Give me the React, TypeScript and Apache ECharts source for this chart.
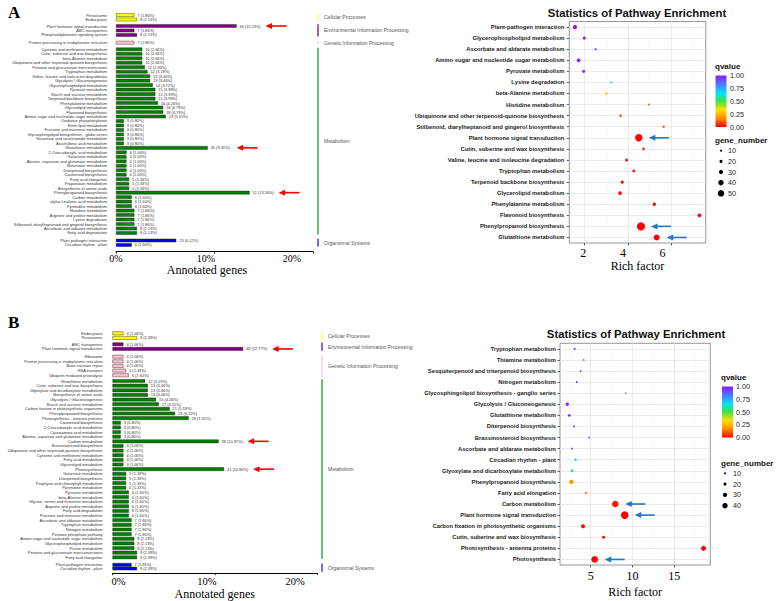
import React, { useEffect, useRef } from 'react';
import * as echarts from 'echarts';

// ====================== DATA ======================
// Panel A – KEGG classification (bar chart)
const TOTAL_A = 376;
const A_cellNames = ['Peroxisome', 'Endocytosis'];
const A_cellCounts = [7, 8];
const A_envNames = ['Plant hormone signal transduction', 'ABC transporters', 'Phosphatidylinositol signaling system'];
const A_envCounts = [46, 7, 8];
const A_genNames = ['Protein processing in endoplasmic reticulum'];
const A_genCounts = [7];
const A_metNames = [
  'Cysteine and methionine metabolism', 'Cutin, suberine and wax biosynthesis', 'beta-Alanine metabolism',
  'Ubiquinone and other terpenoid-quinone biosynthesis', 'Pentose and glucuronate interconversions', 'Tryptophan metabolism',
  'Valine, leucine and isoleucine degradation', 'Glycolysis / Gluconeogenesis', 'Glycerophospholipid metabolism',
  'Pyruvate metabolism', 'Starch and sucrose metabolism', 'Terpenoid backbone biosynthesis', 'Phenylalanine metabolism',
  'Glycerolipid metabolism', 'Flavonoid biosynthesis', 'Amino sugar and nucleotide sugar metabolism',
  'Oxidative phosphorylation', 'Ether lipid metabolism', 'Fructose and mannose metabolism',
  'Glycosphingolipid biosynthesis - globo series', 'Nicotinate and nicotinamide metabolism', 'Arachidonic acid metabolism',
  'Glutathione metabolism', '2-Oxocarboxylic acid metabolism', 'Galactose metabolism',
  'Alanine, aspartate and glutamate metabolism', 'Butanoate metabolism', 'Diterpenoid biosynthesis', 'Carotenoid biosynthesis',
  'Fatty acid elongation', 'Propanoate metabolism', 'Biosynthesis of amino acids', 'Phenylpropanoid biosynthesis',
  'Carbon metabolism', 'alpha-Linolenic acid metabolism', 'Pyrimidine metabolism', 'Histidine metabolism',
  'Arginine and proline metabolism', 'Lysine degradation', 'Stilbenoid, diarylheptanoid and gingerol biosynthesis',
  'Ascorbate and aldarate metabolism', 'Fatty acid degradation',
];
const A_metCounts = [10, 10, 10, 10, 11, 12, 13, 13, 14, 15, 15, 15, 16, 18, 18, 19, 3, 3, 3, 3, 3, 3, 35, 4, 4, 4, 4, 4, 4, 5, 5, 5, 51, 6, 6, 6, 7, 7, 7, 7, 8, 8];
const A_orgNames = ['Plant-pathogen interaction', 'Circadian rhythm - plant'];
const A_orgCounts = [23, 6];
const A_barHighlights = ['Plant hormone signal transduction', 'Glutathione metabolism', 'Phenylpropanoid biosynthesis'];

// Panel A – enrichment bubble chart
const A_pathways = [
  'Plant-pathogen interaction', 'Glycerophospholipid metabolism', 'Ascorbate and aldarate metabolism',
  'Amino sugar and nucleotide sugar metabolism', 'Pyruvate metabolism', 'Lysine degradation', 'beta-Alanine metabolism',
  'Histidine metabolism', 'Ubiquinone and other terpenoid-quinone biosynthesis',
  'Stilbenoid, diarylheptanoid and gingerol biosynthesis', 'Plant hormone signal transduction',
  'Cutin, suberine and wax biosynthesis', 'Valine, leucine and isoleucine degradation', 'Tryptophan metabolism',
  'Terpenoid backbone biosynthesis', 'Glycerolipid metabolism', 'Phenylalanine metabolism', 'Flavonoid biosynthesis',
  'Phenylpropanoid biosynthesis', 'Glutathione metabolism',
];
const A_richFactor = [1.57, 2.0, 2.52, 1.74, 1.97, 3.24, 3.01, 4.97, 3.67, 5.64, 4.5, 4.72, 3.94, 4.27, 3.74, 3.64, 5.21, 7.28, 4.6, 5.32];
const A_qvalue = [1.0, 0.97, 0.92, 0.98, 0.95, 0.63, 0.28, 0.12, 0.1, 0.06, 0.0, 0.03, 0.02, 0.02, 0.01, 0.01, 0.0, 0.0, 0.0, 0.0];
const A_geneNumber = [23, 14, 8, 19, 15, 7, 10, 7, 10, 7, 46, 10, 13, 12, 15, 18, 16, 18, 51, 35];
const A_bubbleHighlights = ['Plant hormone signal transduction', 'Phenylpropanoid biosynthesis', 'Glutathione metabolism'];

// Panel B – KEGG classification (bar chart)
const TOTAL_B = 376;
const B_cellNames = ['Endocytosis', 'Peroxisome'];
const B_cellCounts = [4, 9];
const B_envNames = ['ABC transporters', 'Plant hormone signal transduction'];
const B_envCounts = [4, 48];
const B_genNames = ['Ribosome', 'Protein processing in endoplasmic reticulum', 'Base excision repair', 'RNA transport', 'Ubiquitin mediated proteolysis'];
const B_genCounts = [4, 4, 4, 5, 6];
const B_metNames = [
  'Glutathione metabolism', 'Cutin, suberine and wax biosynthesis', 'Glyoxylate and dicarboxylate metabolism',
  'Biosynthesis of amino acids', 'Glycolysis / Gluconeogenesis', 'Starch and sucrose metabolism',
  'Carbon fixation in photosynthetic organisms', 'Phenylpropanoid biosynthesis', 'Photosynthesis - antenna proteins',
  'Carotenoid biosynthesis', '2-Oxocarboxylic acid metabolism', 'Cyanoamino acid metabolism',
  'Alanine, aspartate and glutamate metabolism', 'Carbon metabolism', 'Brassinosteroid biosynthesis',
  'Ubiquinone and other terpenoid-quinone biosynthesis', 'Cysteine and methionine metabolism', 'Fatty acid metabolism',
  'Glycerolipid metabolism', 'Photosynthesis', 'Galactose metabolism', 'Diterpenoid biosynthesis',
  'Porphyrin and chlorophyll metabolism', 'Pyrimidine metabolism', 'Pyruvate metabolism', 'beta-Alanine metabolism',
  'Glycine, serine and threonine metabolism', 'Arginine and proline metabolism', 'Fatty acid degradation',
  'Fructose and mannose metabolism', 'Ascorbate and aldarate metabolism', 'Tryptophan metabolism', 'Nitrogen metabolism',
  'Pentose phosphate pathway', 'Amino sugar and nucleotide sugar metabolism', 'Glycerophospholipid metabolism',
  'Purine metabolism', 'Pentose and glucuronate interconversions', 'Fatty acid elongation',
];
const B_metCounts = [12, 13, 13, 13, 16, 17, 21, 23, 28, 3, 3, 3, 3, 39, 4, 4, 4, 4, 4, 41, 5, 5, 5, 5, 6, 6, 6, 6, 6, 6, 7, 7, 7, 7, 8, 8, 8, 9, 9];
const B_orgNames = ['Plant-pathogen interaction', 'Circadian rhythm - plant'];
const B_orgCounts = [7, 9];
const B_barHighlights = ['Plant hormone signal transduction', 'Carbon metabolism', 'Photosynthesis'];

// Panel B – enrichment bubble chart
const B_pathways = [
  'Tryptophan metabolism', 'Thiamine metabolism', 'Sesquiterpenoid and triterpenoid biosynthesis', 'Nitrogen metabolism',
  'Glycosphingolipid biosynthesis - ganglio series', 'Glycolysis / Gluconeogenesis', 'Glutathione metabolism',
  'Diterpenoid biosynthesis', 'Brassinosteroid biosynthesis', 'Ascorbate and aldarate metabolism', 'Circadian rhythm - plant',
  'Glyoxylate and dicarboxylate metabolism', 'Phenylpropanoid biosynthesis', 'Fatty acid elongation', 'Carbon metabolism',
  'Plant hormone signal transduction', 'Carbon fixation in photosynthetic organisms', 'Cutin, suberine and wax biosynthesis',
  'Photosynthesis - antenna proteins', 'Photosynthesis',
];
const B_richFactor = [3.09, 4.16, 3.8, 3.33, 9.19, 2.2, 2.44, 3.0, 4.8, 2.76, 3.2, 2.76, 2.68, 4.44, 7.94, 9.07, 4.08, 6.55, 18.5, 5.48];
const B_qvalue = [0.95, 0.95, 0.95, 0.95, 0.95, 0.97, 0.97, 0.93, 0.9, 0.88, 0.72, 0.68, 0.18, 0.15, 0.02, 0.0, 0.01, 0.01, 0.0, 0.0];
const B_geneNumber = [7, 3, 3, 7, 1, 16, 12, 5, 4, 7, 9, 13, 23, 9, 39, 48, 21, 13, 28, 41];
const B_bubbleHighlights = ['Carbon metabolism', 'Plant hormone signal transduction', 'Photosynthesis'];

// Labels / ticks
const GROUP_NAMES = ['Cellular Processes', 'Environmental Information Processing', 'Genetic Information Processing', 'Metabolism', 'Organismal Systems'];
const PCT_TICKS = [0, 10, 20];
const Q_TICKS = [0, 0.25, 0.5, 0.75, 1];
const A_RICH_MAJOR = [2, 4, 6];
const A_RICH_MINOR = [3, 5, 7];
const B_RICH_MAJOR = [5, 10, 15];
const B_RICH_MINOR = [2.5, 7.5, 12.5, 17.5];
const A_SIZE_LEGEND = [10, 20, 30, 40, 50];
const B_SIZE_LEGEND = [10, 20, 30, 40];
const BAR_X_TITLE = 'Annotated genes';
const BUB_X_TITLE = 'Rich factor';
const BUB_TITLE = 'Statistics of Pathway Enrichment';

// ====================== STYLE / LAYOUT ======================
const SANS = '"Liberation Sans", Arial, Helvetica, sans-serif';
const SERIF = '"Liberation Serif", "Times New Roman", Times, serif';
const BAR_FILL = ['#FFFF00', '#800080', '#FFC0CB', '#008000', '#0000FF'];
const SIDE_COLOR = ['#FFFF66', '#A24FA2', '#FFD6E0', '#5DB85D', '#5B5BFF'];
const Q_COLORS = ['#FF0000', '#FF8C00', '#FFE000', '#3CE63C', '#00E0FF', '#5078FF', '#8C1AFF'];
const RED = '#FF0000';
const BLUE = '#1F78C4';

const sizeOf = (n: number) => 1.2 + 0.135 * n;
const legendSizeOf = (n: number) => 0.8 + 0.115 * n;

const LAYOUT_A_BAR = {
  left: 116, width: 197, row: 4.48, firstCenters: [15, 26, 42.7, 49.3, 240.5], barW: 3.5,
  axisY: 251.7, tickMargin: 1.5, tickFont: 10, tickShift: [0, 8.5, 21], nameGap: 9.3, nameShift: 7.5,
  sideX: 318, catFont: 4, catMargin: 9, valFont: 3.9, arrowGap: 29, prefix: 'a',
};
const LAYOUT_B_BAR = {
  left: 112.5, width: 204.5, row: 4.64, firstCenters: [333.3, 344.3, 356.7, 381, 565.3], barW: 3.6,
  axisY: 575, tickMargin: 3, tickFont: 10.5, tickShift: [-6, 8, 22], nameGap: 13.7, nameShift: 0,
  sideX: 322, catFont: 4, catMargin: 10, valFont: 3.9, arrowGap: 29, prefix: 'b',
};
const LAYOUT_A_BUB = {
  left: 569.3, top: 21.5, width: 136.4, height: 221.5, min: 1.312, max: 7.569, tickMargin: 4.2,
  tickShift: [1, 5, 9], nameGap: 14.2, catMargin: 5, titleX: 637, titleY: 13.3,
  legX: 715, qTitleY: 66.5, barX: 715.5, barY: 75.5, barH: 51.5, barW: 11, qLabX: 730,
  gTitleY: 140, dotX: 721, dotY0: 150.7, dotStep: 10.65, dotLabX: 728, prefix: 'ab',
};
const LAYOUT_B_BUB = {
  left: 560, top: 343.3, width: 150.3, height: 221.7, min: 1.328, max: 19.31, tickMargin: 5.4,
  tickShift: [0, 0, 0], nameGap: 21, catMargin: 4, titleX: 636, titleY: 334.3,
  legX: 721, qTitleY: 377.5, barX: 722, barY: 386.5, barH: 51, barW: 11, qLabX: 736,
  gTitleY: 463, dotX: 725, dotY0: 473.3, dotStep: 10.8, dotLabX: 733, prefix: 'bb',
};

function shiftPad(d: number) {
  return d >= 0 ? [0, 2 * d, 0, 0] : [0, 0, 0, -2 * d];
}

type Group = { names: string[]; counts: number[] };
type Job = { id: string; gridIndex: number; value: any[]; dx: number; len: number; color: string };

function barPanel(L: any, groups: Group[], total: number, base: number, highlights: string[]) {
  const grid: any[] = [], xAxis: any[] = [], yAxis: any[] = [], series: any[] = [], graphic: any[] = [], jobs: Job[] = [];
  groups.forEach((g, gi) => {
    const idx = base + gi;
    const top = L.firstCenters[gi] - L.row / 2;
    const height = g.names.length * L.row;
    const last = gi === groups.length - 1;
    const pct = g.counts.map((c) => (c / total) * 100);
    const rich: any = {};
    PCT_TICKS.forEach((t, i) => {
      rich['t' + i] = { fontFamily: SERIF, fontSize: L.tickFont, color: '#000', padding: shiftPad(L.tickShift[i]) };
    });
    grid.push({ left: L.left, width: L.width, top, height });
    xAxis.push({
      type: 'value', gridIndex: idx,
      min: PCT_TICKS[0], max: PCT_TICKS[PCT_TICKS.length - 1], interval: PCT_TICKS[1] - PCT_TICKS[0],
      show: last, offset: last ? L.axisY - (top + height) : 0,
      axisLine: { show: true, onZero: false, lineStyle: { color: '#000', width: 1 } },
      axisTick: { show: true, length: 2, lineStyle: { color: '#000', width: 0.8 } },
      splitLine: { show: false },
      axisLabel: {
        margin: L.tickMargin,
        formatter: (v: number) => {
          const i = PCT_TICKS.indexOf(v);
          return i < 0 ? '' : `{t${i}|${v}%}`;
        },
        rich,
      },
      name: last ? BAR_X_TITLE : '', nameLocation: 'middle', nameGap: L.nameGap,
      nameTextStyle: { fontFamily: SERIF, fontSize: 12, color: '#000', padding: shiftPad(L.nameShift) },
    });
    yAxis.push({
      type: 'category', gridIndex: idx, data: g.names, inverse: true,
      axisLine: { show: false }, axisTick: { show: false }, splitLine: { show: false },
      axisLabel: { interval: 0, fontFamily: SANS, fontSize: L.catFont, color: '#333', margin: L.catMargin },
    });
    series.push({
      type: 'bar', xAxisIndex: idx, yAxisIndex: idx, barWidth: L.barW, silent: true,
      data: pct,
      itemStyle: { color: BAR_FILL[gi], borderColor: '#1a1a1a', borderWidth: 0.4 },
      label: {
        show: true, position: 'right', distance: 3, fontFamily: SANS, fontSize: L.valFont, color: '#333',
        formatter: (p: any) => `${g.counts[p.dataIndex]} (${((g.counts[p.dataIndex] / total) * 100).toFixed(2)}%)`,
      },
    });
    graphic.push({
      type: 'line', id: `${L.prefix}side${gi}`, silent: true,
      shape: { x1: L.sideX, y1: top + 0.6, x2: L.sideX, y2: top + height - 0.6 },
      style: { stroke: SIDE_COLOR[gi], lineWidth: 1.8 },
    });
    graphic.push({
      type: 'text', id: `${L.prefix}sidet${gi}`, silent: true, x: L.sideX + 6, y: top + height / 2,
      style: { text: GROUP_NAMES[gi], fontFamily: SANS, fontSize: 5, fill: '#555', align: 'left', verticalAlign: 'middle' },
    });
    highlights.forEach((h, hi) => {
      const r = g.names.indexOf(h);
      if (r >= 0) jobs.push({ id: `${L.prefix}arr${hi}`, gridIndex: idx, value: [pct[r], r], dx: L.arrowGap, len: 21, color: RED });
    });
  });
  return { grid, xAxis, yAxis, series, graphic, jobs };
}

function bubblePanel(B: any, names: string[], rich: number[], q: number[], genes: number[], major: number[], minor: number[], sizeLegend: number[], gridIndex: number, highlights: string[]) {
  const labRich: any = {};
  major.forEach((t, i) => {
    labRich['t' + i] = { fontFamily: SERIF, fontSize: 12, color: '#000', padding: shiftPad(B.tickShift[i]) };
  });
  const grid = { left: B.left, top: B.top, width: B.width, height: B.height, show: true, borderColor: '#7a7a7a', borderWidth: 0.8 };
  const xAxis = {
    type: 'value', gridIndex, min: B.min, max: B.max,
    axisLine: { show: false },
    axisTick: { show: true, customValues: major, length: 2.5, lineStyle: { color: '#333', width: 0.8 } },
    axisLabel: {
      customValues: major, margin: B.tickMargin,
      formatter: (v: number) => {
        const i = major.indexOf(v);
        return i < 0 ? '' : `{t${i}|${v}}`;
      },
      rich: labRich,
    },
    splitLine: { show: false },
    name: BUB_X_TITLE, nameLocation: 'middle', nameGap: B.nameGap,
    nameTextStyle: { fontFamily: SERIF, fontSize: 12, color: '#000' },
  };
  const yAxis = {
    type: 'category', gridIndex, data: names, inverse: true,
    axisLine: { show: false },
    axisTick: { show: true, alignWithLabel: true, length: 2.5, lineStyle: { color: '#333', width: 0.8 } },
    axisLabel: { interval: 0, fontFamily: SANS, fontSize: 5.8, fontWeight: 'bold', color: '#1a1a1a', margin: B.catMargin },
    splitLine: { show: false },
  };
  const gridLines: any[] = [
    ...major.map((v) => ({ xAxis: v, lineStyle: { color: '#e6e6e6', width: 0.8 } })),
    ...minor.map((v) => ({ xAxis: v, lineStyle: { color: '#f2f2f2', width: 0.5 } })),
    ...names.map((_, i) => ({ yAxis: i, lineStyle: { color: '#e6e6e6', width: 0.8 } })),
  ];
  const series = {
    type: 'scatter', xAxisIndex: gridIndex, yAxisIndex: gridIndex, z: 3, silent: true,
    data: names.map((_, i) => [rich[i], i, q[i], genes[i]]),
    symbolSize: (v: number[]) => sizeOf(v[3]),
    itemStyle: { opacity: 1 },
    emphasis: { disabled: true },
    markLine: {
      z: 1, silent: true, symbol: ['none', 'none'], label: { show: false }, emphasis: { disabled: true },
      lineStyle: { type: 'solid' }, data: gridLines,
    },
  };
  const p = B.prefix;
  const graphic: any[] = [
    {
      type: 'text', id: p + 'title', silent: true, x: B.titleX, y: B.titleY,
      style: { text: BUB_TITLE, fontFamily: SANS, fontSize: 11.3, fontWeight: 'bold', fill: '#111', align: 'center', verticalAlign: 'middle' },
    },
    {
      type: 'text', id: p + 'qt', silent: true, x: B.legX, y: B.qTitleY,
      style: { text: 'qvalue', fontFamily: SANS, fontSize: 8, fontWeight: 'bold', fill: '#111', align: 'left', verticalAlign: 'middle' },
    },
    {
      type: 'rect', id: p + 'cbar', silent: true,
      shape: { x: B.barX, y: B.barY, width: B.barW, height: B.barH },
      style: {
        fill: new echarts.graphic.LinearGradient(0, 0, 0, 1,
          Q_COLORS.slice().reverse().map((c, i, arr) => ({ offset: i / (arr.length - 1), color: c }))),
      },
    },
    ...Q_TICKS.map((t, i) => ({
      type: 'text', id: p + 'ql' + i, silent: true, x: B.qLabX, y: B.barY + (1 - t) * B.barH,
      style: { text: t.toFixed(2), fontFamily: SANS, fontSize: 7.2, fill: '#222', align: 'left', verticalAlign: 'middle' },
    })),
    {
      type: 'text', id: p + 'gt', silent: true, x: B.legX, y: B.gTitleY,
      style: { text: 'gene_number', fontFamily: SANS, fontSize: 8, fontWeight: 'bold', fill: '#111', align: 'left', verticalAlign: 'middle' },
    },
    ...sizeLegend.map((n, i) => ({
      type: 'circle', id: p + 'gd' + i, silent: true,
      shape: { cx: B.dotX, cy: B.dotY0 + i * B.dotStep, r: legendSizeOf(n) / 2 },
      style: { fill: '#000' },
    })),
    ...sizeLegend.map((n, i) => ({
      type: 'text', id: p + 'gl' + i, silent: true, x: B.dotLabX, y: B.dotY0 + i * B.dotStep,
      style: { text: String(n), fontFamily: SANS, fontSize: 7.2, fill: '#222', align: 'left', verticalAlign: 'middle' },
    })),
  ];
  const jobs: Job[] = highlights.map((h, hi) => {
    const r = names.indexOf(h);
    return { id: `${p}arr${hi}`, gridIndex, value: [rich[r], r], dx: 10, len: 20, color: BLUE };
  });
  return { grid, xAxis, yAxis, series, graphic, jobs };
}

function arrowEls(id: string, xHead: number, y: number, len: number, color: string) {
  return [
    {
      type: 'line', id: id + 's', silent: true, z: 100,
      shape: { x1: xHead + 4, y1: y, x2: xHead + len, y2: y },
      style: { stroke: color, lineWidth: 1.6 },
    },
    {
      type: 'polygon', id: id + 'h', silent: true, z: 100,
      shape: { points: [[xHead, y], [xHead + 6.5, y - 3], [xHead + 6.5, y + 3]] },
      style: { fill: color },
    },
  ];
}

function buildAll() {
  const aBar = barPanel(LAYOUT_A_BAR, [
    { names: A_cellNames, counts: A_cellCounts },
    { names: A_envNames, counts: A_envCounts },
    { names: A_genNames, counts: A_genCounts },
    { names: A_metNames, counts: A_metCounts },
    { names: A_orgNames, counts: A_orgCounts },
  ], TOTAL_A, 0, A_barHighlights);
  const bBar = barPanel(LAYOUT_B_BAR, [
    { names: B_cellNames, counts: B_cellCounts },
    { names: B_envNames, counts: B_envCounts },
    { names: B_genNames, counts: B_genCounts },
    { names: B_metNames, counts: B_metCounts },
    { names: B_orgNames, counts: B_orgCounts },
  ], TOTAL_B, 5, B_barHighlights);
  const aBub = bubblePanel(LAYOUT_A_BUB, A_pathways, A_richFactor, A_qvalue, A_geneNumber, A_RICH_MAJOR, A_RICH_MINOR, A_SIZE_LEGEND, 10, A_bubbleHighlights);
  const bBub = bubblePanel(LAYOUT_B_BUB, B_pathways, B_richFactor, B_qvalue, B_geneNumber, B_RICH_MAJOR, B_RICH_MINOR, B_SIZE_LEGEND, 11, B_bubbleHighlights);

  const letters = [
    { type: 'text', id: 'letA', silent: true, x: 8, y: 4, style: { text: 'A', fontFamily: SERIF, fontSize: 17, fontWeight: 'bold', fill: '#000', align: 'left', verticalAlign: 'top' } },
    { type: 'text', id: 'letB', silent: true, x: 8, y: 314, style: { text: 'B', fontFamily: SERIF, fontSize: 17, fontWeight: 'bold', fill: '#000', align: 'left', verticalAlign: 'top' } },
  ];
  const baseGraphic = [...aBar.graphic, ...bBar.graphic, ...aBub.graphic, ...bBub.graphic, ...letters];

  const option: any = {
    animation: false,
    backgroundColor: '#fff',
    textStyle: { fontFamily: SANS },
    grid: [...aBar.grid, ...bBar.grid, aBub.grid, bBub.grid],
    xAxis: [...aBar.xAxis, ...bBar.xAxis, aBub.xAxis, bBub.xAxis],
    yAxis: [...aBar.yAxis, ...bBar.yAxis, aBub.yAxis, bBub.yAxis],
    series: [...aBar.series, ...bBar.series, aBub.series, bBub.series],
    visualMap: [{
      type: 'continuous', show: false, min: 0, max: 1, dimension: 2, seriesIndex: [10, 11],
      inRange: { color: Q_COLORS },
    }],
    graphic: { elements: baseGraphic },
  };
  const jobs = [...aBar.jobs, ...bBar.jobs, ...aBub.jobs, ...bBub.jobs];
  return { option, jobs, baseGraphic };
}

export default function App() {
  const ref = useRef<HTMLDivElement>(null);
  useEffect(() => {
    if (!ref.current) return;
    const chart = echarts.init(ref.current, undefined, { renderer: 'svg' });
    const { option, jobs, baseGraphic } = buildAll();
    chart.setOption(option);
    const arrows: any[] = [];
    jobs.forEach((j) => {
      const pt = chart.convertToPixel({ gridIndex: j.gridIndex } as any, j.value) as any;
      if (!pt || isNaN(pt[0])) return;
      arrows.push(...arrowEls(j.id, pt[0] + j.dx, pt[1], j.len, j.color));
    });
    chart.setOption({ graphic: { elements: [...baseGraphic, ...arrows] } });
    return () => chart.dispose();
  }, []);
  return (
    <div
      ref={ref}
      style={{ position: 'fixed', left: 0, top: 0, width: 784, height: 601, background: '#fff' }}
    />
  );
}
